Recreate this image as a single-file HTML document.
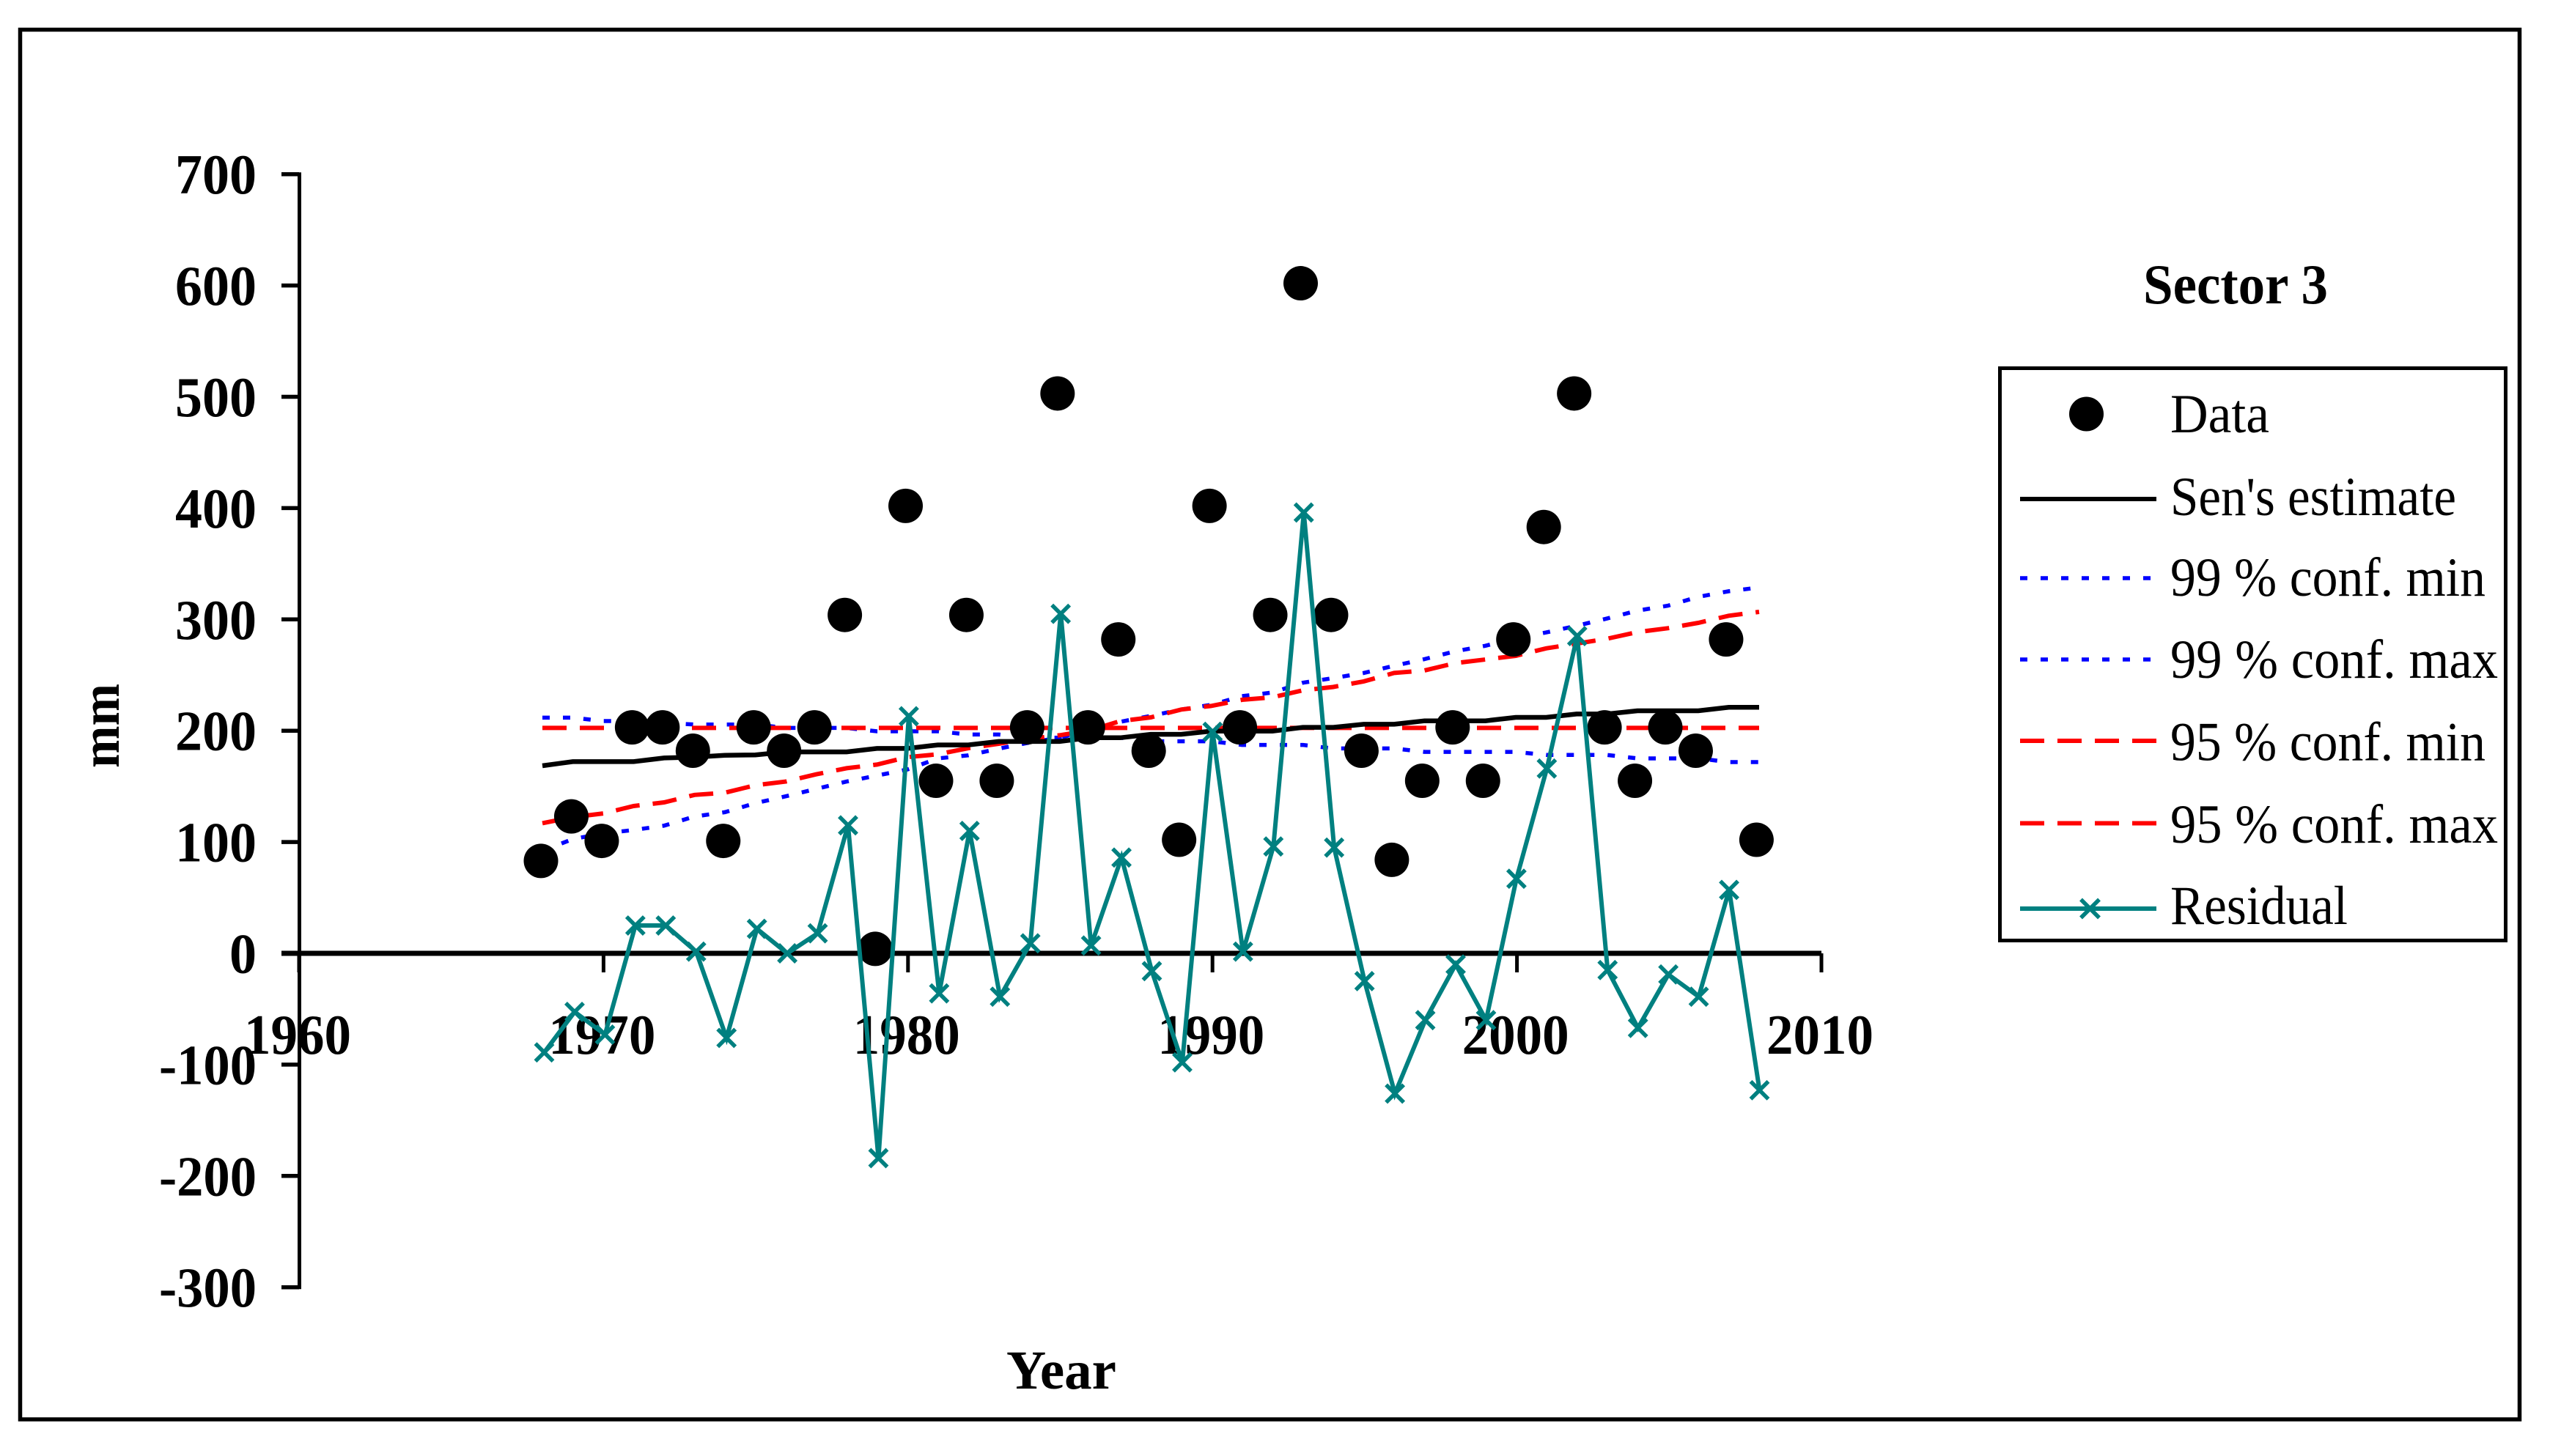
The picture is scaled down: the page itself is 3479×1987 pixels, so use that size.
<!DOCTYPE html>
<html>
<head>
<meta charset="utf-8">
<title>Sector 3</title>
<style>
html,body{margin:0;padding:0;background:#fff;}
svg{display:block;}
text{font-family:"Liberation Serif","Times New Roman",serif;fill:#000;}
.b{font-weight:bold;}
</style>
</head>
<body>
<svg id="chart" xmlns="http://www.w3.org/2000/svg" width="3479" height="1987" viewBox="0 0 3479 1987">
  <rect x="0" y="0" width="3479" height="1987" fill="#fff"/>
  <rect x="27.5" y="40.5" width="3410" height="1896.5" fill="none" stroke="#000" stroke-width="5.5"/>
  <g id="plot-lines"></g>
  <g id="axes"></g>
  <g id="plot-marks"></g>
  <text class="b" font-size="75" text-anchor="start" textLength="115" lengthAdjust="spacingAndGlyphs" transform="translate(162,1048) rotate(-90)">mm</text>
  <text class="b" x="1373" y="1895" font-size="75" textLength="150" lengthAdjust="spacingAndGlyphs">Year</text>
  <text class="b" x="2924" y="414" font-size="77" textLength="252" lengthAdjust="spacingAndGlyphs">Sector 3</text>
  <g>
    <rect x="2728.5" y="502.5" width="690" height="781" fill="#fff" stroke="#000" stroke-width="5"/>
    <circle cx="2846.5" cy="565" r="23.5" fill="#000"/>
    <text x="2961" y="590" font-size="75" textLength="135" lengthAdjust="spacingAndGlyphs">Data</text>
    <line x1="2756" y1="681" x2="2942" y2="681" stroke="#000" stroke-width="6"/>
    <text x="2961" y="703" font-size="75" textLength="390" lengthAdjust="spacingAndGlyphs">Sen's estimate</text>
    <line x1="2756" y1="789" x2="2942" y2="789" stroke="#0000ff" stroke-width="5.5" stroke-dasharray="10 18"/>
    <text x="2961" y="813" font-size="75" textLength="430" lengthAdjust="spacingAndGlyphs">99 % conf. min</text>
    <line x1="2756" y1="900" x2="2942" y2="900" stroke="#0000ff" stroke-width="5.5" stroke-dasharray="10 18"/>
    <text x="2961" y="925" font-size="75" textLength="447" lengthAdjust="spacingAndGlyphs">99 % conf. max</text>
    <line x1="2756" y1="1011" x2="2942" y2="1011" stroke="#ff0000" stroke-width="6" stroke-dasharray="33 18"/>
    <text x="2961" y="1037.5" font-size="75" textLength="430" lengthAdjust="spacingAndGlyphs">95 % conf. min</text>
    <line x1="2756" y1="1123.5" x2="2942" y2="1123.5" stroke="#ff0000" stroke-width="6" stroke-dasharray="33 18"/>
    <text x="2961" y="1150" font-size="75" textLength="447" lengthAdjust="spacingAndGlyphs">95 % conf. max</text>
    <line x1="2756" y1="1240" x2="2942" y2="1240" stroke="#008080" stroke-width="6"/>
    <path d="M2839 1227.5L2864 1252.5M2839 1252.5L2864 1227.5" stroke="#008080" stroke-width="5.5" fill="none"/>
    <text x="2961" y="1261" font-size="75" textLength="242" lengthAdjust="spacingAndGlyphs">Residual</text>
  </g>
</svg>
<script>
const years = [1968,1969,1970,1971,1972,1973,1974,1975,1976,1977,1978,1979,1980,1981,1982,1983,1984,1985,1986,1987,1988,1989,1990,1991,1992,1993,1994,1995,1996,1997,1998,1999,2000,2001,2002,2003,2004,2005,2006,2007,2008];
const dataValues = [83,123,101,203,203,182,101,203,182,203,304,4,402,155,304,155,203,503,203,282,182,102,402,203,304,602,304,182,84,155,203,155,282,383,503,203,155,203,182,282,102];
const senValues = [168.5,172.2,172.2,172.2,175.5,176.3,177.9,178.3,181,181,181,184.1,184.1,187.2,187.2,190.3,190.3,190.3,193.7,193.7,196.8,196.8,199.7,199.7,199.7,203,203,205.8,205.8,208.9,208.9,208.9,212,212,215,215,217.9,217.9,217.9,221,221];
const conf99Min = [211.7,211.7,208.7,208.7,207,205.6,205.6,205.6,202.5,202.5,202.5,199.5,199.5,199.5,196.6,196.6,193.7,193.7,193.7,193.7,190.5,190.5,190.5,187.2,187.2,187.2,184.1,184.1,184.1,181,181,181,181,178.2,178.2,178.2,175.1,175.1,175.1,171.8,171.8];
const conf99Max = [92,102.7,107.7,110.8,114.7,122.9,126.8,134.9,141.1,147.7,154.3,159.7,165.2,175.1,177.9,183.9,189.3,193.7,200.3,208,213.3,219,223.3,231.1,234.3,243.1,247.3,251.9,258.3,264.3,271.3,276.3,283.3,288.3,294.3,300.8,307.9,312.3,320.3,325.3,328.7];
const conf95Min = [202.5,202.5,202.5,202.5,202.5,202.5,202.5,202.5,202.5,202.5,202.5,202.5,202.5,202.5,202.5,202.5,202.5,202.5,202.5,202.5,202.5,202.5,202.5,202.5,202.5,202.5,202.5,202.5,202.5,202.5,202.5,202.5,202.5,202.5,202.5,202.5,202.5,202.5,202.5,202.5,202.5];
const conf95Max = [116.9,122.3,125.7,132.3,135.6,142.3,144.3,151,154.3,160.8,166.3,169.6,176.3,178.8,184.3,188.3,192.7,195.9,200.3,208.7,212,219,222.3,227.8,230,236.3,239.3,244.3,251.9,254.1,260.7,264,267.3,274,278.3,282.6,288.6,292.1,296.9,303.3,306.8];
const residualValues = [-89,-52.6,-73,25,25,1.5,-76,22,0,18,115,-184,213,-36,110,-39,9,305,7,86,-16,-98,199,1.5,96,396,95,-25,-126,-60,-10,-60,67,166,285,-15,-67,-19,-39,57,-123];
const yTickValues = [700,600,500,400,300,200,100,0,-100,-200,-300];
const xTickValues = [1960,1970,1980,1990,2000,2010];

const SVG_NS = 'http://www.w3.org/2000/svg';
function axisY(v){ return 1301 - v * 1.519; }
function axisX(yr){ return 408 + (yr - 1960) * 41.54; }
function lineX(yr){ return 740 + (yr - 1968) * 41.5; }
function dataX(yr){ return 738.0 + (yr - 1968) * 41.46; }
function residualX(yr){ return 742.5 + (yr - 1968) * 41.45; }

const linesG = document.getElementById('plot-lines');
const axesG = document.getElementById('axes');
const marksG = document.getElementById('plot-marks');

function addSeriesLine(parent, values, xFn, color, width, dash){
  const el = document.createElementNS(SVG_NS, 'polyline');
  el.setAttribute('points', values.map(function(v, i){ return xFn(years[i]).toFixed(1) + ',' + axisY(v).toFixed(1); }).join(' '));
  el.setAttribute('fill', 'none');
  el.setAttribute('stroke', color);
  el.setAttribute('stroke-width', width);
  if (dash) el.setAttribute('stroke-dasharray', dash);
  parent.appendChild(el);
  return el;
}

let seriesEl;
seriesEl = addSeriesLine(linesG, conf99Min, lineX, '#0000ff', 5.5, '10 18');


seriesEl = addSeriesLine(linesG, conf99Max, lineX, '#0000ff', 5.5, '10 18');


seriesEl = addSeriesLine(linesG, conf95Min, lineX, '#ff0000', 6, '33 18');


seriesEl = addSeriesLine(linesG, conf95Max, lineX, '#ff0000', 6, '33 18');


seriesEl = addSeriesLine(linesG, senValues, lineX, '#000000', 6.5, null);



/* axes */
const yAxisLine = document.createElementNS(SVG_NS, 'line');


yAxisLine.setAttribute('x1', axisX(1960) + 0.5);
yAxisLine.setAttribute('x2', axisX(1960) + 0.5);
yAxisLine.setAttribute('y1', axisY(700) - 2.5);
yAxisLine.setAttribute('y2', axisY(-300) + 2.5);
yAxisLine.setAttribute('stroke', '#000');
yAxisLine.setAttribute('stroke-width', '5');
axesG.appendChild(yAxisLine);

const xAxisLine = document.createElementNS(SVG_NS, 'line');


xAxisLine.setAttribute('x1', 384);
xAxisLine.setAttribute('x2', axisX(2010));
xAxisLine.setAttribute('y1', axisY(0));
xAxisLine.setAttribute('y2', axisY(0));
xAxisLine.setAttribute('stroke', '#000');
xAxisLine.setAttribute('stroke-width', '7');
axesG.appendChild(xAxisLine);

yTickValues.forEach(function(v){
  const tick = document.createElementNS(SVG_NS, 'line');
  
  
  tick.setAttribute('x1', 384);
  tick.setAttribute('x2', axisX(1960));
  tick.setAttribute('y1', axisY(v));
  tick.setAttribute('y2', axisY(v));
  tick.setAttribute('stroke', '#000');
  tick.setAttribute('stroke-width', '5.5');
  axesG.appendChild(tick);
  const label = document.createElementNS(SVG_NS, 'text');
  
  
  label.setAttribute('class', 'b');
  label.setAttribute('x', 350);
  label.setAttribute('y', axisY(v) + 26.5);
  label.setAttribute('font-size', '77');
  label.setAttribute('text-anchor', 'end');
  const s = String(v);
  label.setAttribute('textLength', String(Math.abs(v)).length * 37 + (v < 0 ? 22 : 0));
  label.setAttribute('lengthAdjust', 'spacingAndGlyphs');
  label.textContent = s;
  axesG.appendChild(label);
});

xTickValues.forEach(function(yr){
  const tick = document.createElementNS(SVG_NS, 'line');
  
  
  tick.setAttribute('x1', axisX(yr));
  tick.setAttribute('x2', axisX(yr));
  tick.setAttribute('y1', axisY(0));
  tick.setAttribute('y2', axisY(0) + 26);
  tick.setAttribute('stroke', '#000');
  tick.setAttribute('stroke-width', '5');
  axesG.appendChild(tick);
  const label = document.createElementNS(SVG_NS, 'text');
  
  
  label.setAttribute('class', 'b');
  label.setAttribute('x', axisX(yr) - 2);
  label.setAttribute('y', 1438);
  label.setAttribute('font-size', '77');
  label.setAttribute('text-anchor', 'middle');
  label.setAttribute('textLength', '146');
  label.setAttribute('lengthAdjust', 'spacingAndGlyphs');
  label.textContent = String(yr);
  axesG.appendChild(label);
});

/* data markers */
dataValues.forEach(function(v, i){
  const dot = document.createElementNS(SVG_NS, 'circle');
  
  
  dot.setAttribute('cx', dataX(years[i]));
  dot.setAttribute('cy', axisY(v));
  dot.setAttribute('r', '23.5');
  dot.setAttribute('fill', '#000');
  marksG.appendChild(dot);
});

/* residual series */
seriesEl = addSeriesLine(marksG, residualValues, residualX, '#008080', 6, null);


residualValues.forEach(function(v, i){
  const px = residualX(years[i]);
  const py = axisY(v);
  const mark = document.createElementNS(SVG_NS, 'path');
  
  
  mark.setAttribute('d', 'M' + (px - 12) + ' ' + (py - 12) + 'L' + (px + 12) + ' ' + (py + 12) + 'M' + (px - 12) + ' ' + (py + 12) + 'L' + (px + 12) + ' ' + (py - 12));
  mark.setAttribute('stroke', '#008080');
  mark.setAttribute('stroke-width', '5.5');
  mark.setAttribute('fill', 'none');
  marksG.appendChild(mark);
});
</script>
</body>
</html>
